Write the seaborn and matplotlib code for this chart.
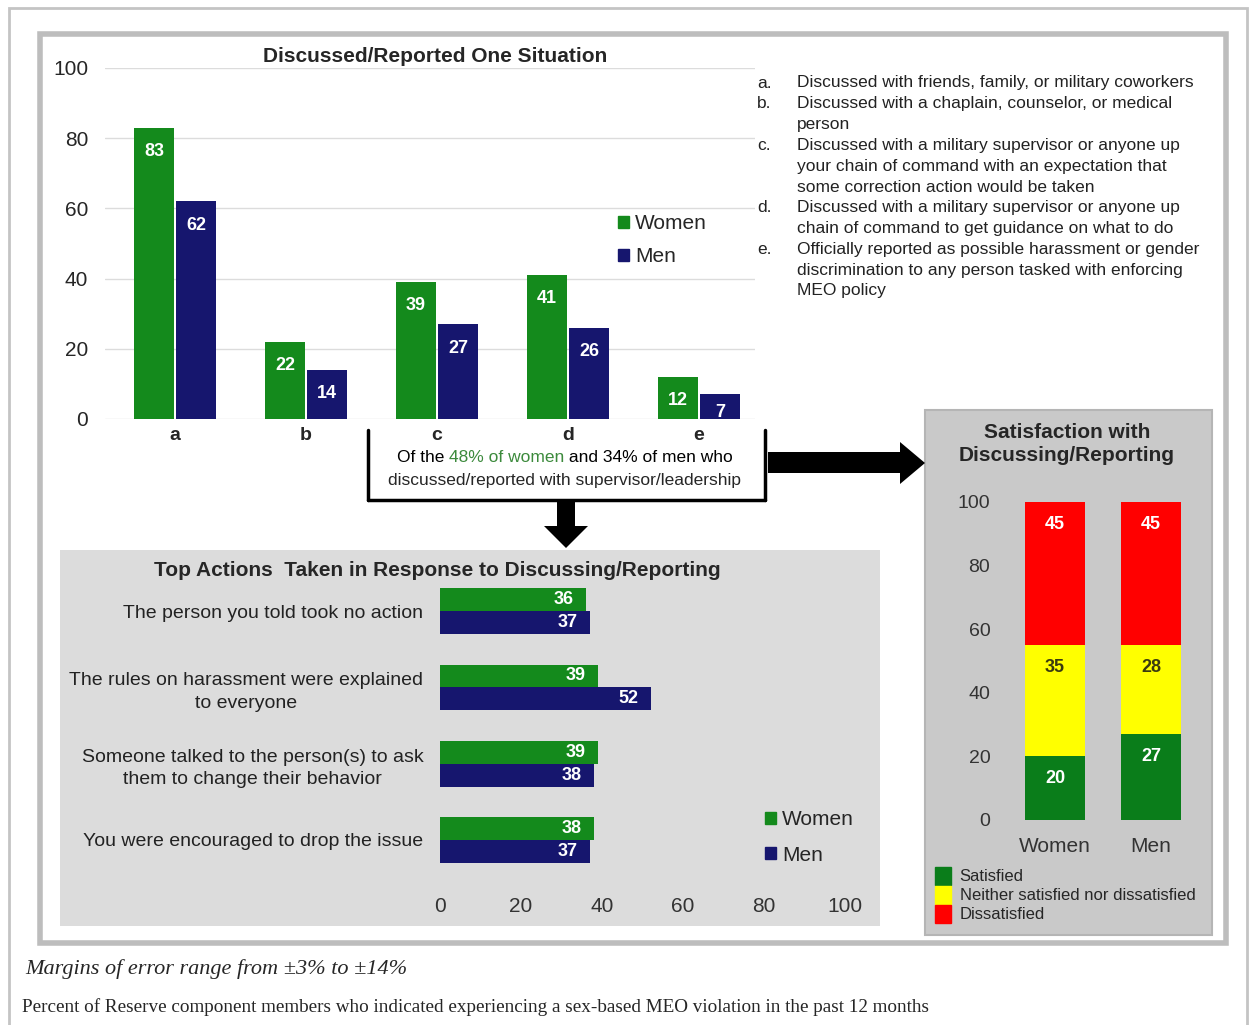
import pandas as pd
import numpy as np
import matplotlib.pyplot as plt
import matplotlib.patches as mpatches
from matplotlib.lines import Line2D
import seaborn as sns

W, H = 1249, 1025

# data
categories = ['a', 'b', 'c', 'd', 'e']
women_pct = [83, 22, 39, 41, 12]
men_pct = [62, 14, 27, 26, 7]

category_notes = [
    ('a.', 'Discussed with friends, family, or military coworkers'),
    ('b.', 'Discussed with a chaplain, counselor, or medical\nperson'),
    ('c.', 'Discussed with a military supervisor or anyone up\nyour chain of command with an expectation that\nsome correction action would be taken'),
    ('d.', 'Discussed with a military supervisor or anyone up\nchain of command to get guidance on what to do'),
    ('e.', 'Officially reported as possible harassment or gender\ndiscrimination to any person tasked with enforcing\nMEO policy'),
]

actions = ['The person you told took no action',
           'The rules on harassment were explained\nto everyone',
           'Someone talked to the person(s) to ask\nthem to change their behavior',
           'You were encouraged to drop the issue']
actions_women = [36, 39, 39, 38]
actions_men = [37, 52, 38, 37]

sat_groups = ['Women', 'Men']
satisfied = [20, 27]
neither = [35, 28]
dissatisfied = [45, 45]
sat_labels = ['Satisfied', 'Neither satisfied nor dissatisfied', 'Dissatisfied']

GREEN = '#148A1C'
NAVY = '#16166E'
SAT_GREEN = '#0A7D1A'
YELLOW = '#FFFF00'
RED = '#FF0000'

sns.set_theme(style='white')
plt.rcParams['font.family'] = ['Liberation Sans', 'DejaVu Sans']
NARROW = ['Liberation Sans Narrow', 'Liberation Sans', 'DejaVu Sans']


def fx(x):
    return x / W


def fy(y):
    return 1 - y / H


fig = plt.figure(figsize=(W / 100, H / 100), dpi=100)


def panel(x0, y0, x1, y1, **kw):
    fig.add_artist(mpatches.Rectangle((fx(x0), fy(y1)), fx(x1 - x0), (y1 - y0) / H,
                                      transform=fig.transFigure, zorder=-5, **kw))


# frames and panels
panel(9, 8, 1247, 1040, fill=False, edgecolor='#c4c4c4', lw=2)
panel(40, 34, 1226, 943, fill=False, edgecolor='#bdbdbd', lw=4)
panel(60, 550, 880, 926, facecolor='#dcdcdc', edgecolor='none')
panel(925, 410, 1212, 935, facecolor='#c9c9c9', edgecolor='#b5b5b5', lw=1.5)

# ---- top chart ----
ax1 = fig.add_axes([fx(105), fy(419), fx(650), (419 - 68) / H])
ax1.patch.set_alpha(0)
df_top = pd.DataFrame({'cat': categories * 2,
                       'gender': ['Women'] * 5 + ['Men'] * 5,
                       'pct': women_pct + men_pct})
sns.barplot(data=df_top, x='cat', y='pct', hue='gender', palette=[GREEN, NAVY],
            saturation=1, width=0.64, gap=0.04, linewidth=0, ax=ax1, legend=False)
ax1.set_ylim(0, 100)
ax1.set_xlim(-0.534, 4.427)
ax1.set_yticks(range(0, 101, 20))
ax1.yaxis.grid(True, color='#dcdcdc', lw=1)
ax1.set_axisbelow(True)
for s in ax1.spines.values():
    s.set_visible(False)
ax1.set_xlabel('')
ax1.set_ylabel('')
ax1.tick_params(axis='y', length=0, pad=12, labelsize=15)
ax1.tick_params(axis='x', length=0, pad=6, labelsize=14)
for t in ax1.get_yticklabels():
    t.set_family(NARROW)
for t in ax1.get_xticklabels():
    t.set_fontweight('bold')
for cont in ax1.containers:
    for bar in cont:
        v = bar.get_height()
        off = min(11, v * 3.51 / 1.389 - 11)
        ax1.annotate(f'{v:.0f}', (bar.get_x() + bar.get_width() / 2, v), xytext=(0, -off),
                     textcoords='offset points', ha='center', va='top', color='white',
                     fontsize=13, fontweight='bold', family=NARROW)

h_top = [mpatches.Patch(color=GREEN), mpatches.Patch(color=NAVY)]
fig.legend(h_top, ['Women', 'Men'], loc='upper left', bbox_to_anchor=(fx(610), fy(206)),
           frameon=False, fontsize=15, handlelength=0.5, handleheight=0.5, handletextpad=0.3,
           labelspacing=0.68, borderaxespad=0)

fig.text(fx(435), fy(57), 'Discussed/Reported One Situation', ha='center', va='center',
         fontsize=15, fontweight='bold')

# category notes, one line every 20.8 px
y = 83
for letter, note in category_notes:
    fig.text(fx(757), fy(y), letter, ha='left', va='center', fontsize=12.5, color='#222222', family=NARROW)
    for line in note.split('\n'):
        fig.text(fx(797), fy(y), line, ha='left', va='center', fontsize=12.5, color='#222222',
                 family=NARROW)
        y += 20.8

# bracket and annotation
for xs, ys in [([368, 368], [430, 500]), ([765, 765], [430, 500]), ([368, 765], [500, 500])]:
    fig.add_artist(Line2D([fx(v) for v in xs], [fy(v) for v in ys], color='black', lw=2.5,
                          transform=fig.transFigure))
t1 = fig.text(fx(565), fy(458), 'Of the 48% of women and 34% of men who', ha='center', va='center',
              fontsize=12.5, family=NARROW)
fig.text(fx(565), fy(480), 'discussed/reported with supervisor/leadership', ha='center', va='center',
         fontsize=12.5, family=NARROW)

fig.canvas.draw()
rend = fig.canvas.get_renderer()
x0 = t1.get_window_extent(rend).x0
t1.remove()
for part, col in [('Of the ', 'black'), ('48% of women', '#3c8a3c'), (' and 34% of men who', 'black')]:
    tt = fig.text(x0 / W, fy(458), part, ha='left', va='center', fontsize=12.5, family=NARROW, color=col)
    x0 = tt.get_window_extent(rend).x1


# arrows
def poly(pts):
    fig.add_artist(mpatches.Polygon([(fx(a), fy(b)) for a, b in pts], closed=True,
                                    facecolor='black', edgecolor='none', transform=fig.transFigure))


poly([(768, 452), (900, 452), (900, 442), (925, 463), (900, 484), (900, 473), (768, 473)])
poly([(557, 500), (575, 500), (575, 526), (588, 526), (566, 548), (544, 526), (557, 526)])

# ---- bottom chart ----
ax2 = fig.add_axes([fx(440), fy(878), fx(405), (878 - 573) / H])
ax2.patch.set_alpha(0)
df_act = pd.DataFrame({'action': actions * 2,
                       'gender': ['Women'] * 4 + ['Men'] * 4,
                       'pct': actions_women + actions_men})
sns.barplot(data=df_act, x='pct', y='action', hue='gender', orient='h', palette=[GREEN, NAVY],
            saturation=1, width=0.6, linewidth=0, ax=ax2, legend=False)
ax2.set_xlim(0, 100)
ax2.set_ylim(3.5, -0.5)
ax2.set_xticks(range(0, 101, 20))
for s in ax2.spines.values():
    s.set_visible(False)
ax2.set_xlabel('')
ax2.set_ylabel('')
ax2.tick_params(axis='x', length=0, pad=14, labelsize=15)
ax2.tick_params(axis='y', length=0, pad=12, labelsize=14)
for t in ax2.get_xticklabels():
    t.set_family(NARROW)
    t.set_color('#333333')
for t in ax2.get_yticklabels():
    t.set_family(NARROW)
    t.set_multialignment('center')
    t.set_linespacing(1.4)
    t.set_color('#222222')
for cont in ax2.containers:
    for bar in cont:
        v = bar.get_width()
        ax2.annotate(f'{v:.0f}', (v, bar.get_y() + bar.get_height() / 2), xytext=(-9, 0),
                     textcoords='offset points', ha='right', va='center', color='white',
                     fontsize=13, fontweight='bold', family=NARROW)
fig.text(fx(437), fy(570), 'Top Actions  Taken in Response to Discussing/Reporting', ha='center',
         va='center', fontsize=15, fontweight='bold')
fig.legend(h_top, ['Women', 'Men'], loc='upper left', bbox_to_anchor=(fx(757), fy(802)),
           frameon=False, fontsize=15, handlelength=0.5, handleheight=0.5, handletextpad=0.3,
           labelspacing=0.78, borderaxespad=0)

# ---- satisfaction chart ----
ax3 = fig.add_axes([fx(1007), fy(820), fx(192), (820 - 502) / H])
ax3.patch.set_alpha(0)
cum_sat = np.array(satisfied)
cum_nei = cum_sat + np.array(neither)
cum_dis = cum_nei + np.array(dissatisfied)
for cum, seg, col, txtcol in [(cum_dis, dissatisfied, RED, 'white'),
                              (cum_nei, neither, YELLOW, '#3a3a10'),
                              (cum_sat, satisfied, SAT_GREEN, 'white')]:
    sns.barplot(x=sat_groups, y=cum, color=col, saturation=1, width=0.635, linewidth=0, ax=ax3)
    for i, (c, s) in enumerate(zip(cum, seg)):
        ax3.annotate(f'{s}', (i, c), xytext=(0, -16), textcoords='offset points', ha='center',
                     va='center', color=txtcol, fontsize=13, fontweight='bold', family=NARROW)
ax3.set_ylim(0, 100)
ax3.set_xlim(-0.5, 1.5)
ax3.set_yticks(range(0, 101, 20))
for s in ax3.spines.values():
    s.set_visible(False)
ax3.tick_params(axis='y', length=0, pad=12, labelsize=14)
ax3.tick_params(axis='x', length=0, pad=12, labelsize=15)
for t in ax3.get_yticklabels() + ax3.get_xticklabels():
    t.set_family(NARROW)
    t.set_color('#333333')
fig.text(fx(1067), fy(444), 'Satisfaction with\nDiscussing/Reporting', ha='center', va='center',
         fontsize=15, fontweight='bold', linespacing=1.3)
h_sat = [mpatches.Patch(color=SAT_GREEN), mpatches.Patch(color=YELLOW), mpatches.Patch(color=RED)]
fig.legend(h_sat, sat_labels, loc='upper left', bbox_to_anchor=(fx(928), fy(860)), frameon=False,
           handlelength=1.0, handleheight=1.3, handletextpad=0.5, labelspacing=0.05,
           borderaxespad=0, prop={'family': NARROW, 'size': 12})

# footer
fig.text(fx(25), fy(969), 'Margins of error range from \u00b13% to \u00b114%', ha='left', va='center',
         fontsize=16, style='italic', family=['Liberation Serif', 'DejaVu Serif'])
fig.text(fx(22), fy(1007), 'Percent of Reserve component members who indicated experiencing a sex-based '
         'MEO violation in the past 12 months', ha='left', va='center', fontsize=13.8,
         family=['Liberation Serif', 'DejaVu Serif'])

fig.savefig('out.png', dpi=100)
